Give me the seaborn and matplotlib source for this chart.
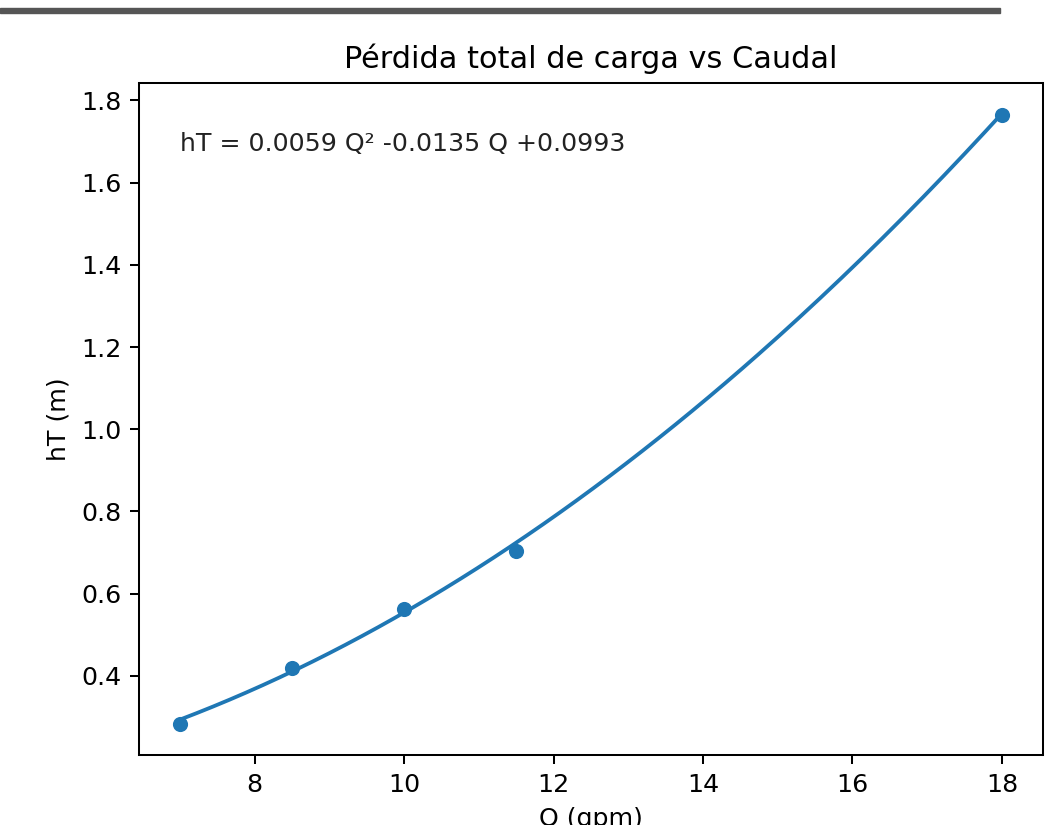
# ==========================================
# Perdida total de carga vs Caudal
# ==========================================

import numpy as np
import pandas as pd
import matplotlib
matplotlib.use("Agg")
import matplotlib.pyplot as plt
import seaborn as sns

# ==========================================
# Data
# ==========================================

caudal_gpm = [7.0, 8.5, 10.0, 11.5, 18.0]

perdida_m = [0.282, 0.42, 0.562, 0.705, 1.765]

# coefficients shown in the equation label (a Q^2 + b Q + c)
coef_fit = [0.0059, -0.0135, 0.0993]

equation_label = "hT = 0.0059 Q\u00b2 -0.0135 Q +0.0993"

# ==========================================
# Style (screenshot is a default plot scaled ~1.82x)
# ==========================================

s = 1.82

plt.rcParams.update({
    "font.size": 10 * s,
    "axes.titlesize": 12 * s,
    "axes.labelsize": 10 * s,
    "xtick.labelsize": 10 * s,
    "ytick.labelsize": 10 * s,
    "lines.linewidth": 1.5 * s,
    "axes.linewidth": 0.8 * s,
    "xtick.major.size": 3.5 * s,
    "ytick.major.size": 3.5 * s,
    "xtick.major.width": 0.8 * s,
    "ytick.major.width": 0.8 * s,
    "xtick.major.pad": 3.5 * s,
    "ytick.major.pad": 3.5 * s,
    "axes.labelpad": 4 * s,
    "axes.titlepad": 6 * s,
})

df = pd.DataFrame({"Q": caudal_gpm, "hT": perdida_m})

q_fit = np.linspace(min(caudal_gpm), max(caudal_gpm), 200)
fit_df = pd.DataFrame({"Q": q_fit, "hT": np.polyval(coef_fit, q_fit)})

# ==========================================
# Plot
# ==========================================

fig = plt.figure(figsize=(10.59, 8.25), dpi=100)

ax = fig.add_axes([139 / 1059, 70 / 825, 904 / 1059, 672 / 825])

sns.scatterplot(
    data=df,
    x="Q",
    y="hT",
    color="#1f77b4",
    s=36 * s * s,
    linewidth=0,
    ax=ax
)

sns.lineplot(
    data=fit_df,
    x="Q",
    y="hT",
    color="#1f77b4",
    ax=ax
)

ax.text(7, 1.693, equation_label, va="center", color="#222222")

ax.set_title("P\u00e9rdida total de carga vs Caudal")
ax.set_xlabel("Q (gpm)")
ax.set_ylabel("hT (m)")

# dark bar at the top of the screenshot
fig.add_artist(
    plt.Rectangle(
        (0, 1 - 13 / 825),
        1000 / 1059,
        5 / 825,
        transform=fig.transFigure,
        color="#555555"
    )
)

fig.savefig("out.png", dpi=100)
